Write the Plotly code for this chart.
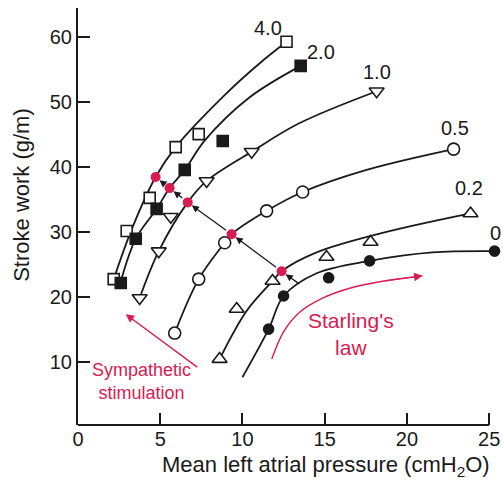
import plotly.graph_objects as go

RED = "#d81b50"
INK = "#1a1a1a"
FONT = "Liberation Sans, Arial, Helvetica, sans-serif"

# ---- axes ----
x_range = [0, 25.6]
y_range = [0.26, 64.4]
x_ticks = [0, 5, 10, 15, 20, 25]
y_ticks = [10, 20, 30, 40, 50, 60]
x_title = "Mean left atrial pressure (cmH<sub>2</sub>O)"
y_title = "Stroke work (g/m)"

# ---- measured points (markers) ----
m40_x = [2.17, 2.96, 4.36, 5.94, 7.34, 12.68]
m40_y = [22.7, 30.1, 35.2, 43.0, 45.0, 59.2]
m20_x = [2.60, 3.51, 4.78, 6.49, 8.80, 13.54]
m20_y = [22.1, 28.9, 33.5, 39.5, 43.95, 55.5]
m10_x = [3.75, 4.91, 5.64, 7.82, 10.56, 18.16]
m10_y = [19.8, 27.0, 32.3, 37.8, 42.3, 51.6]
m05_x = [5.88, 7.34, 8.92, 11.47, 13.66, 22.84]
m05_y = [14.4, 22.7, 28.3, 33.2, 36.1, 42.7]
m02_x = [8.61, 9.65, 11.83, 15.11, 17.79, 23.87]
m02_y = [10.4, 18.1, 22.4, 26.1, 28.4, 32.8]
m0_x = [11.59, 12.50, 15.24, 17.73, 25.33]
m0_y = [15.0, 20.1, 22.9, 25.5, 27.0]

# ---- fitted curves ----
c40_x = [2.17, 3.32, 4.72, 5.94, 9.04, 11.05, 12.68]
c40_y = [22.7, 30.7, 38.4, 43.0, 51.3, 55.9, 59.2]
c20_x = [2.55, 3.51, 4.78, 5.57, 6.49, 7.7, 10.4, 13.54]
c20_y = [21.9, 28.9, 33.5, 36.7, 39.5, 44.0, 50.6, 55.5]
c10_x = [3.75, 4.91, 6.67, 7.82, 10.56, 13.48, 18.16]
c10_y = [19.8, 27.0, 34.5, 37.8, 42.3, 46.7, 51.6]
c05_x = [5.88, 7.34, 8.92, 9.34, 11.47, 13.66, 17.55, 22.84]
c05_y = [14.4, 22.7, 28.3, 29.6, 33.2, 36.1, 39.5, 42.7]
c02_x = [8.61, 10.25, 11.83, 12.38, 14.51, 18.52, 23.87]
c02_y = [10.4, 17.8, 22.4, 23.9, 26.8, 29.8, 32.8]
c0_x = [10.0, 11.59, 12.50, 14.51, 17.73, 21.56, 25.33]
c0_y = [7.6, 15.0, 20.1, 23.6, 25.5, 26.8, 27.0]

# ---- operating points shifted by sympathetic stimulation ----
op_x = [13.54, 12.38, 9.34, 6.67, 5.57, 4.72]
op_y = [21.8, 23.9, 29.6, 34.5, 36.7, 38.4]

# ---- curve labels ----
lab_text = ["4.0", "2.0", "1.0", "0.5", "0.2", "0"]
lab_x = [11.53, 14.8, 18.2, 22.9, 23.8, 25.4]
lab_y = [61.3, 57.6, 54.6, 46.0, 36.7, 29.8]

# ---- red annotations ----
starling_x = [11.78, 12.5, 13.48, 14.9, 16.52, 18.6, 20.95]
starling_y = [10.4, 14.6, 17.6, 19.8, 21.3, 22.4, 23.2]
starling_text = "Starling's<br>law"
starling_pos = (16.63, 14.3)
symp_tail = (7.34, 9.0)
symp_head = (2.90, 17.3)
symp_text = "Sympathetic<br>stimulation"
symp_pos = (3.87, 7.0)

fig = go.Figure()

curves = [
    (c40_x, c40_y), (c20_x, c20_y), (c10_x, c10_y),
    (c05_x, c05_y), (c02_x, c02_y), (c0_x, c0_y),
]
for cx, cy in curves:
    fig.add_trace(go.Scatter(x=cx, y=cy, mode="lines",
                             line=dict(color=INK, width=1.8, shape="spline", smoothing=1.0),
                             hoverinfo="skip"))

W = "white"
markers = [
    (m40_x, m40_y, "square", W, 11),
    (m20_x, m20_y, "square", INK, 11),
    (m10_x, m10_y, "triangle-down", W, 13),
    (m05_x, m05_y, "circle", W, 12),
    (m02_x, m02_y, "triangle-up", W, 13),
    (m0_x, m0_y, "circle", INK, 10),
]
for mx, my, sym, fill, sz in markers:
    fig.add_trace(go.Scatter(x=mx, y=my, mode="markers", cliponaxis=False,
                             marker=dict(symbol=sym, size=sz, color=fill,
                                         line=dict(color=INK, width=1.6))))

# Starling curve (red)
fig.add_trace(go.Scatter(x=starling_x, y=starling_y, mode="lines",
                         line=dict(color=RED, width=1.4, shape="spline", smoothing=1.0),
                         hoverinfo="skip"))

# red operating points
fig.add_trace(go.Scatter(x=op_x[1:], y=op_y[1:], mode="markers",
                         marker=dict(symbol="circle", size=10, color=RED)))

annotations = []
# black arrows between operating points
for i in range(len(op_x) - 1):
    annotations.append(dict(
        x=op_x[i + 1], y=op_y[i + 1], ax=op_x[i], ay=op_y[i],
        xref="x", yref="y", axref="x", ayref="y",
        showarrow=True, arrowhead=2, arrowsize=1.1, arrowwidth=1.3,
        arrowcolor=INK, standoff=5, startstandoff=0 if i == 0 else 5, text=""))

# Starling arrowhead
annotations.append(dict(
    x=starling_x[-1], y=starling_y[-1], ax=starling_x[-2], ay=starling_y[-2],
    xref="x", yref="y", axref="x", ayref="y",
    showarrow=True, arrowhead=2, arrowsize=1.2, arrowwidth=1.4,
    arrowcolor=RED, text=""))

# Sympathetic arrow
annotations.append(dict(
    x=symp_head[0], y=symp_head[1], ax=symp_tail[0], ay=symp_tail[1],
    xref="x", yref="y", axref="x", ayref="y",
    showarrow=True, arrowhead=2, arrowsize=1.2, arrowwidth=1.4,
    arrowcolor=RED, text=""))

for t, lx, ly in zip(lab_text, lab_x, lab_y):
    annotations.append(dict(x=lx, y=ly, xref="x", yref="y", text=t, showarrow=False,
                            font=dict(family=FONT, size=20, color=INK)))

annotations.append(dict(x=starling_pos[0], y=starling_pos[1], xref="x", yref="y",
                        text=starling_text, showarrow=False,
                        font=dict(family=FONT, size=21, color=RED)))
annotations.append(dict(x=symp_pos[0], y=symp_pos[1], xref="x", yref="y",
                        text=symp_text, showarrow=False,
                        font=dict(family=FONT, size=18, color=RED)))

# axis titles
annotations.append(dict(x=(326 - 78) / 421, y=0, xref="paper", yref="paper",
                        xanchor="center", yanchor="middle",
                        yshift=-41, text=x_title, showarrow=False,
                        font=dict(family=FONT, size=22, color=INK)))
annotations.append(dict(x=0, y=0.552, xref="paper", yref="paper", xshift=-56,
                        xanchor="center", yanchor="middle",
                        text=y_title, showarrow=False, textangle=-90,
                        font=dict(family=FONT, size=22, color=INK)))

fig.update_layout(
    width=503, height=482,
    margin=dict(l=78, r=4, t=8, b=57),
    paper_bgcolor="white", plot_bgcolor="white",
    showlegend=False,
    annotations=annotations,
    font=dict(family=FONT, size=20, color=INK),
    shapes=[dict(type="line", xref="x", yref="paper", x0=0, x1=25, y0=0, y1=0,
                 line=dict(color=INK, width=2))],
)
fig.update_xaxes(range=x_range, tickvals=x_ticks, ticks="inside", ticklen=12,
                 tickwidth=2, tickcolor=INK, showline=False, showgrid=False,
                 zeroline=False, tickfont=dict(family=FONT, size=20, color=INK))
fig.update_yaxes(range=y_range, tickvals=y_ticks, ticks="inside", ticklen=12,
                 tickwidth=2, tickcolor=INK, showline=True, linewidth=2, linecolor=INK,
                 showgrid=False, zeroline=False,
                 tickfont=dict(family=FONT, size=20, color=INK))

fig.write_html("out.html",
               config={"displayModeBar": False},
               post_script="document.body.style.margin='0';document.body.style.overflow='hidden';")
